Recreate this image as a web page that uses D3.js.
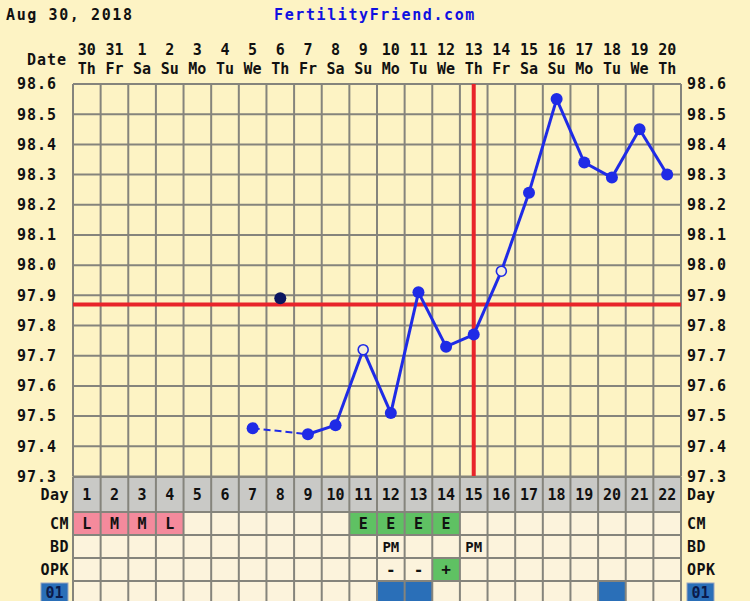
<!DOCTYPE html>
<html>
<head>
<meta charset="utf-8">
<script src="https://cdn.jsdelivr.net/npm/d3@7"></script>
<style>
  html, body { margin: 0; padding: 0; background: #fdf3c4; }
  svg { display: block; }
  text { font-family: "DejaVu Sans Mono", "Liberation Mono", monospace; font-weight: bold; }
</style>
</head>
<body>
<svg id="chart" width="750" height="601"></svg>
<script>
// Cycle chart: header data
const chartDate = "Aug 30, 2018";
const siteName = "FertilityFriend.com";

// Columns (one per cycle day)
const cycleDays = [1,2,3,4,5,6,7,8,9,10,11,12,13,14,15,16,17,18,19,20,21,22];
const dateLabels = ["30","31","1","2","3","4","5","6","7","8","9","10","11","12","13","14","15","16","17","18","19","20"];
const weekdayLabels = ["Th","Fr","Sa","Su","Mo","Tu","We","Th","Fr","Sa","Su","Mo","Tu","We","Th","Fr","Sa","Su","Mo","Tu","We","Th"];

// Temperatures (°F) by cycle day; null = not recorded
const temps = [null,null,null,null,null,null,97.46,97.89,97.44,97.47,97.72,97.51,97.91,97.73,97.77,97.98,98.24,98.55,98.34,98.29,98.45,98.30];
const discardedDays = [8];
const openCircleDays = [11,16];

// Y-axis tick values
const tempTicks = [97.3,97.4,97.5,97.6,97.7,97.8,97.9,98.0,98.1,98.2,98.3,98.4,98.5,98.6];

// Cover line and ovulation day
const coverLine = 97.87;
const ovulationDay = 15;

// Table rows
const cmRow  = ["L","M","M","L","","","","","","","E","E","E","E","","","","","","","",""];
const bdRow  = ["","","","","","","","","","","","PM","","","PM","","","","","","",""];
const opkRow = ["","","","","","","","","","","","-","-","+","","","","","","","",""];
const row01  = [0,0,0,0,0,0,0,0,0,0,0,1,1,0,0,0,0,0,0,1,0,0];

const svg = d3.select("#chart");
const W = 750, H = 601;
const plotL = 73, plotR = 681, plotT = 84, plotB = 476.5;

const x = d3.scaleBand().domain(cycleDays).range([plotL, plotR]).padding(0);
const cx = d => x(d) + x.bandwidth() / 2;
const y = d3.scaleLinear().domain([97.3, 98.6]).range([plotB, plotT]);

const gridColor = "#85847c";
const lineBlue = "#1f2be6";

svg.append("rect").attr("width", W).attr("height", H).attr("fill", "#fdf3c4");

// Header
svg.append("text").attr("x", 6).attr("y", 20).attr("font-size", 15).attr("letter-spacing", 1.6)
  .attr("fill", "#111").text(chartDate);
svg.append("text").attr("x", 375).attr("y", 20).attr("text-anchor", "middle").attr("font-size", 15)
  .attr("letter-spacing", 1.6).attr("fill", "#1010e0").text(siteName);

// Date header rows
svg.append("text").attr("x", 67).attr("y", 65).attr("text-anchor", "end").attr("font-size", 15)
  .attr("letter-spacing", 1).attr("fill", "#111").text("Date");
svg.append("g").selectAll("text").data(cycleDays).join("text")
  .attr("x", d => cx(d)).attr("y", 55).attr("text-anchor", "middle").attr("font-size", 15)
  .attr("fill", "#111").text((d, i) => dateLabels[i]);
svg.append("g").selectAll("text").data(cycleDays).join("text")
  .attr("x", d => cx(d)).attr("y", 74).attr("text-anchor", "middle").attr("font-size", 15)
  .attr("fill", "#111").text((d, i) => weekdayLabels[i]);

// Temperature grid
const grid = svg.append("g");
grid.selectAll("line.h").data(tempTicks).join("line").attr("class", "h")
  .attr("x1", plotL).attr("x2", plotR).attr("y1", d => y(d)).attr("y2", d => y(d))
  .attr("stroke", gridColor).attr("stroke-width", 2);
const colEdges = cycleDays.map(d => x(d)).concat([plotR]);
grid.selectAll("line.v").data(colEdges).join("line").attr("class", "v")
  .attr("x1", d => d).attr("x2", d => d).attr("y1", plotT).attr("y2", plotB)
  .attr("stroke", gridColor).attr("stroke-width", 2);

// Temperature axes (labels only)
const fmt = d3.format(".1f");
const axL = svg.append("g").attr("transform", `translate(${plotL - 16},0)`)
  .call(d3.axisLeft(y).tickValues(tempTicks).tickFormat(fmt).tickSize(0).tickPadding(0));
const axR = svg.append("g").attr("transform", `translate(${plotR + 6},0)`)
  .call(d3.axisRight(y).tickValues(tempTicks).tickFormat(fmt).tickSize(0).tickPadding(0));
[axL, axR].forEach(a => {
  a.select(".domain").remove();
  a.selectAll("text").attr("font-size", 15).attr("fill", "#111")
    .attr("font-family", "DejaVu Sans Mono").attr("font-weight", "bold").attr("letter-spacing", 1);
});

// Cover line and ovulation line
svg.append("line").attr("x1", plotL).attr("x2", plotR).attr("y1", y(coverLine)).attr("y2", y(coverLine))
  .attr("stroke", "#e8242a").attr("stroke-width", 4);
svg.append("line").attr("x1", cx(ovulationDay)).attr("x2", cx(ovulationDay)).attr("y1", plotT).attr("y2", plotB)
  .attr("stroke", "#e8242a").attr("stroke-width", 4);

// Temperature line (discarded readings skipped; gap bridged with dashes)
const pts = cycleDays.map((d, i) => ({ day: d, t: temps[i] }))
  .filter(p => p.t !== null && !discardedDays.includes(p.day));
const lineGen = d3.line().x(p => cx(p.day)).y(p => y(p.t));
for (let i = 0; i < pts.length - 1; i++) {
  const a = pts[i], b = pts[i + 1];
  const gap = b.day - a.day > 1;
  svg.append("path").attr("d", lineGen([a, b])).attr("fill", "none")
    .attr("stroke", lineBlue).attr("stroke-width", gap ? 2 : 3)
    .attr("stroke-dasharray", gap ? "7,4" : null);
}

// Points
cycleDays.forEach((d, i) => {
  const t = temps[i];
  if (t === null) return;
  if (discardedDays.includes(d)) {
    svg.append("circle").attr("cx", cx(d)).attr("cy", y(t)).attr("r", 6).attr("fill", "#0c1660");
  } else if (openCircleDays.includes(d)) {
    svg.append("circle").attr("cx", cx(d)).attr("cy", y(t)).attr("r", 5)
      .attr("fill", "#f4eedc").attr("stroke", lineBlue).attr("stroke-width", 1.6);
  } else {
    svg.append("circle").attr("cx", cx(d)).attr("cy", y(t)).attr("r", 6).attr("fill", lineBlue);
  }
});

// Table below the chart
const rowTops = [477, 512, 535, 558, 581, 604];
const tbl = svg.append("g");
// Day row
tbl.selectAll("rect.day").data(cycleDays).join("rect").attr("class", "day")
  .attr("x", d => x(d)).attr("y", rowTops[0]).attr("width", x.bandwidth()).attr("height", rowTops[1] - rowTops[0])
  .attr("fill", "#c9c9c6");
// Data rows background
[1, 2, 3, 4].forEach(r => {
  tbl.append("rect").attr("x", plotL).attr("y", rowTops[r]).attr("width", plotR - plotL)
    .attr("height", rowTops[r + 1] - rowTops[r]).attr("fill", "#fcf3dc");
});
// CM coloured cells
tbl.selectAll("rect.cm").data(cycleDays.filter((d, i) => cmRow[i] !== "")).join("rect").attr("class", "cm")
  .attr("x", d => x(d)).attr("y", rowTops[1]).attr("width", x.bandwidth()).attr("height", rowTops[2] - rowTops[1])
  .attr("fill", d => cmRow[d - 1] === "E" ? "#5fc163" : "#f48a9c");
// OPK positive cell
tbl.selectAll("rect.opk").data(cycleDays.filter((d, i) => opkRow[i] === "+")).join("rect").attr("class", "opk")
  .attr("x", d => x(d)).attr("y", rowTops[3]).attr("width", x.bandwidth()).attr("height", rowTops[4] - rowTops[3])
  .attr("fill", "#5fc163");
// Row "01" marks
tbl.selectAll("rect.r01").data(cycleDays.filter((d, i) => row01[i])).join("rect").attr("class", "r01")
  .attr("x", d => x(d)).attr("y", rowTops[4]).attr("width", x.bandwidth()).attr("height", rowTops[5] - rowTops[4])
  .attr("fill", "#2a6fb8");
// Table grid lines
tbl.selectAll("line.th").data(rowTops.slice(0, 5)).join("line").attr("class", "th")
  .attr("x1", plotL).attr("x2", plotR).attr("y1", d => d).attr("y2", d => d)
  .attr("stroke", gridColor).attr("stroke-width", 2);
tbl.selectAll("line.tv").data(colEdges).join("line").attr("class", "tv")
  .attr("x1", d => d).attr("x2", d => d).attr("y1", rowTops[0]).attr("y2", H)
  .attr("stroke", gridColor).attr("stroke-width", 2);

// Table cell text
const cellText = (vals, r, size) => tbl.append("g").selectAll("text").data(cycleDays).join("text")
  .attr("x", d => cx(d)).attr("y", (rowTops[r] + rowTops[r + 1]) / 2)
  .attr("dy", "0.36em").attr("text-anchor", "middle").attr("font-size", size).attr("fill", "#111")
  .text((d, i) => vals[i]);
cellText(cycleDays.map(String), 0, 15);
cellText(cmRow, 1, 15);
cellText(bdRow, 2, 14);
cellText(opkRow, 3, 16);

// Row labels both sides
const rowLabels = ["Day", "CM", "BD", "OPK"];
rowLabels.forEach((lab, r) => {
  const yy = (rowTops[r] + rowTops[r + 1]) / 2;
  svg.append("text").attr("x", 69).attr("y", yy).attr("dy", "0.36em").attr("text-anchor", "end")
    .attr("font-size", 15).attr("letter-spacing", 0.5).attr("fill", "#111").text(lab);
  svg.append("text").attr("x", 687).attr("y", yy).attr("dy", "0.36em").attr("text-anchor", "start")
    .attr("font-size", 15).attr("letter-spacing", 0.5).attr("fill", "#111").text(lab);
});
// "01" badges
[{ x: 41 }, { x: 687 }].forEach(b => {
  svg.append("rect").attr("x", b.x).attr("y", 583).attr("width", 27).attr("height", 20)
    .attr("fill", "#2a6fb8").attr("stroke", "#9aa6c0").attr("stroke-width", 1);
  svg.append("text").attr("x", b.x + 13.5).attr("y", 593).attr("dy", "0.36em").attr("text-anchor", "middle")
    .attr("font-size", 15).attr("fill", "#0b1a4a").text("01");
});
</script>
</body>
</html>
